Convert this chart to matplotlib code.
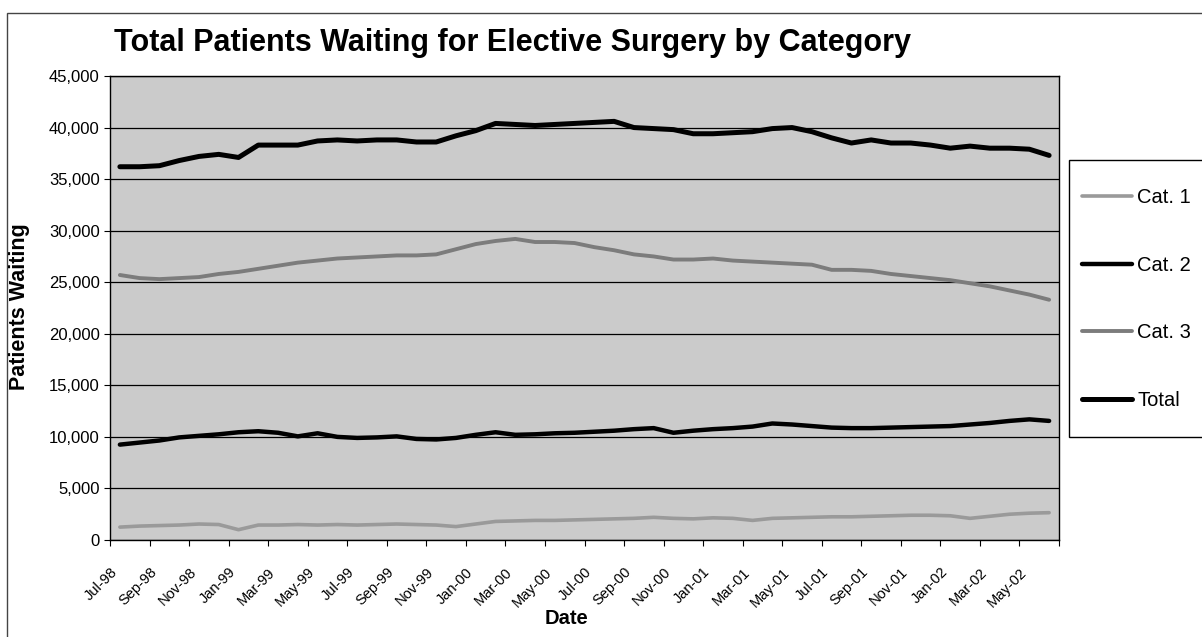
import matplotlib
matplotlib.use("Agg")
import matplotlib.pyplot as plt
from matplotlib.patches import Rectangle
from matplotlib.ticker import FuncFormatter, FixedLocator

plt.rcParams["font.family"] = ["Liberation Sans", "DejaVu Sans"]

# monthly values, Jul-98 .. Jun-02 (thousands of patients)
cat1 = [1.25, 1.35, 1.40, 1.45, 1.55, 1.50, 1.00, 1.45, 1.45, 1.50, 1.45, 1.50,
        1.45, 1.50, 1.55, 1.50, 1.45, 1.30, 1.55, 1.80, 1.85, 1.90, 1.90, 1.95,
        2.00, 2.05, 2.10, 2.20, 2.10, 2.05, 2.15, 2.10, 1.90, 2.10, 2.15, 2.20,
        2.25, 2.25, 2.30, 2.35, 2.40, 2.40, 2.35, 2.10, 2.30, 2.50, 2.60, 2.65]
cat2 = [9.25, 9.45, 9.65, 9.95, 10.1, 10.25, 10.45, 10.55, 10.4, 10.05, 10.35, 10.0,
        9.90, 9.95, 10.05, 9.80, 9.75, 9.90, 10.2, 10.45, 10.2, 10.25, 10.35, 10.4,
        10.5, 10.6, 10.75, 10.85, 10.4, 10.6, 10.75, 10.85, 11.0, 11.3, 11.2, 11.05,
        10.9, 10.85, 10.85, 10.9, 10.95, 11.0, 11.05, 11.2, 11.35, 11.55, 11.7, 11.55]
cat3 = [25.7, 25.4, 25.3, 25.4, 25.5, 25.8, 26.0, 26.3, 26.6, 26.9, 27.1, 27.3,
        27.4, 27.5, 27.6, 27.6, 27.7, 28.2, 28.7, 29.0, 29.2, 28.9, 28.9, 28.8,
        28.4, 28.1, 27.7, 27.5, 27.2, 27.2, 27.3, 27.1, 27.0, 26.9, 26.8, 26.7,
        26.2, 26.2, 26.1, 25.8, 25.6, 25.4, 25.2, 24.9, 24.6, 24.2, 23.8, 23.3]
total = [36.2, 36.2, 36.3, 36.8, 37.2, 37.4, 37.1, 38.3, 38.3, 38.3, 38.7, 38.8,
         38.7, 38.8, 38.8, 38.6, 38.6, 39.2, 39.7, 40.4, 40.3, 40.2, 40.3, 40.4,
         40.5, 40.6, 40.0, 39.9, 39.8, 39.4, 39.4, 39.5, 39.6, 39.9, 40.0, 39.6,
         39.0, 38.5, 38.8, 38.5, 38.5, 38.3, 38.0, 38.2, 38.0, 38.0, 37.9, 37.3]

tick_labels = ["Jul-98", "Sep-98", "Nov-98", "Jan-99", "Mar-99", "May-99",
               "Jul-99", "Sep-99", "Nov-99", "Jan-00", "Mar-00", "May-00",
               "Jul-00", "Sep-00", "Nov-00", "Jan-01", "Mar-01", "May-01",
               "Jul-01", "Sep-01", "Nov-01", "Jan-02", "Mar-02", "May-02"]

series = [("Cat. 1", cat1, "#9a9a9a", 2.6),
          ("Cat. 2", cat2, "black", 3.2),
          ("Cat. 3", cat3, "#7c7c7c", 2.8),
          ("Total", total, "black", 3.6)]

W, H = 1202, 637
fig = plt.figure(figsize=(W / 100, H / 100), dpi=100)

# chart-area frame: only its top and left edges fall inside the scan
fig.patches.append(Rectangle((7 / W, -0.05), 1.2, 1 - 13 / H + 0.05,
                             transform=fig.transFigure, fill=False,
                             edgecolor="#444444", lw=1.0, zorder=-2))
# legend box drawn by hand so the entry spacing can match
fig.patches.append(Rectangle((1069 / W, 1 - 437 / H), 140 / W, 277 / H,
                             transform=fig.transFigure, fill=True,
                             facecolor="white", edgecolor="black", lw=1.0,
                             zorder=-1))

ax = fig.add_axes([110 / W, 1 - 540 / H, 949 / W, 464 / H])
ax.set_facecolor("#cbcbcb")

n = len(total)
x = list(range(n))
for name, vals, col, lw in series:
    ax.plot(x, [v * 1000 for v in vals], color=col, lw=lw, label=name,
            solid_capstyle="round", solid_joinstyle="round")

ax.set_xlim(-0.5, n - 0.5)
ax.set_ylim(0, 45000)
ax.yaxis.set_major_locator(FixedLocator(range(0, 45001, 5000)))
ax.yaxis.set_major_formatter(FuncFormatter(lambda v, p: f"{int(v):,}"))
ax.grid(axis="y", color="black", lw=0.9)
ax.set_axisbelow(True)

# ticks sit on the 2-month boundaries, labels hang off them
ax.set_xticks([2 * k - 0.5 for k in range(len(tick_labels) + 1)])
ax.set_xticklabels(tick_labels + [""], rotation=45, ha="right",
                   rotation_mode="anchor", fontsize=10.5)
ax.tick_params(axis="x", length=4, pad=14, direction="out")
ax.tick_params(axis="y", length=4, labelsize=12, direction="out")
for s in ax.spines.values():
    s.set_color("black")
    s.set_linewidth(1.0)

fig.text(512 / W, 1 - 43 / H, "Total Patients Waiting for Elective Surgery by Category",
         ha="center", va="center", fontsize=22, fontweight="bold")
fig.text(20 / W, 1 - 307 / H, "Patients Waiting", rotation=90,
         ha="center", va="center", fontsize=15.5, fontweight="bold")
fig.text(567 / W, 1 - 618 / H, "Date", ha="center", va="center",
         fontsize=14.5, fontweight="bold")

ax.legend(loc="upper left", bbox_to_anchor=(1082 / W, 1 - 188 / H),
          bbox_transform=fig.transFigure, fontsize=14.5, frameon=False,
          labelspacing=2.42, handlelength=2.5, handletextpad=0.25,
          borderpad=0, borderaxespad=0)

fig.savefig("out.png", dpi=100)
